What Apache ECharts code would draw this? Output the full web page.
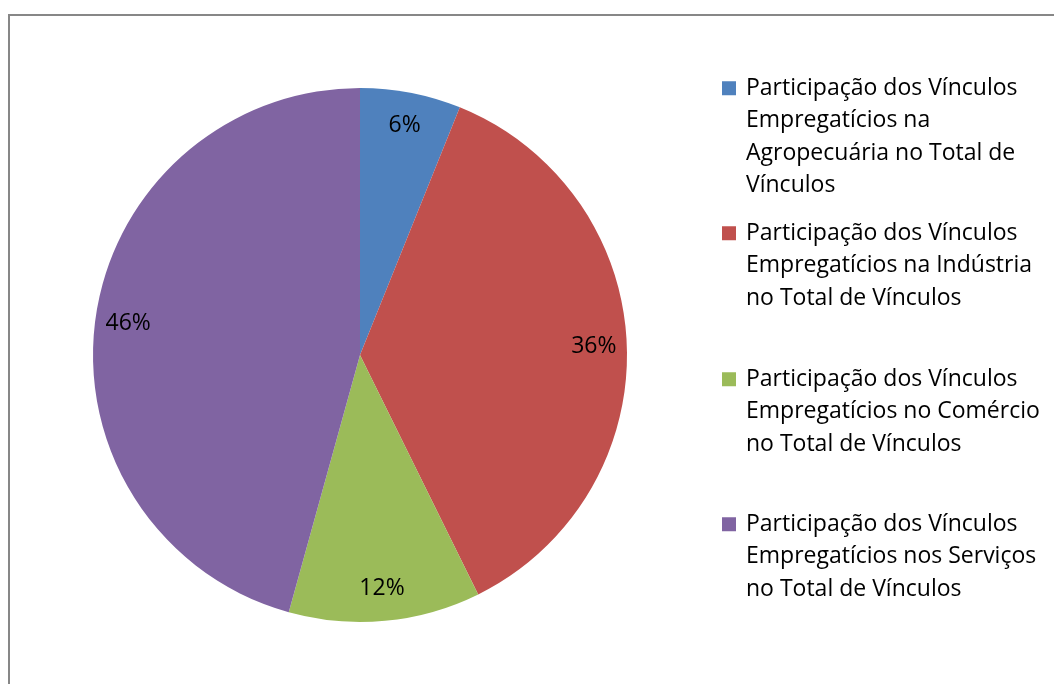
<!DOCTYPE html>
<html>
<head>
<meta charset="UTF-8">
<title>Vínculos Empregatícios</title>
<script src="https://cdn.jsdelivr.net/npm/echarts@6/dist/echarts.min.js"></script>
</head>
<body style="margin:0;background:#fff;">
<div id="chart" style="width:1054px;height:684px;"></div>
<script type="text/javascript">
    // dados (percentuais)
    var nomes = [
        'Participação dos Vínculos\nEmpregatícios na\nAgropecuária no Total de\nVínculos',
        'Participação dos Vínculos\nEmpregatícios na Indústria\nno Total de Vínculos',
        'Participação dos Vínculos\nEmpregatícios no Comércio\nno Total de Vínculos',
        'Participação dos Vínculos\nEmpregatícios nos Serviços\nno Total de Vínculos'
    ];
    var valores = [6.1, 36.6, 11.6, 45.7];
    var rotulos = ['6%', '36%', '12%', '46%'];
    var cores = ['#4F81BD', '#C0504D', '#9BBB59', '#8064A2'];

    var fonte = '"Open Sans", Lato, sans-serif';
    var chart = echarts.init(document.getElementById('chart'));

    var dados = [];
    for (var i = 0; i < nomes.length; i++) {
        dados.push({name: nomes[i], value: valores[i], itemStyle: {color: cores[i]}});
    }

    // rich text: quadrado colorido na primeira linha, recuo nas demais
    var rich = {g: {width: 10}, sp: {width: 24}};
    for (var i = 0; i < cores.length; i++) {
        rich['sq' + i] = {width: 14, height: 14, backgroundColor: cores[i]};
    }

    var topos = [67, 212, 358, 503];
    var legendas = [];
    for (var i = 0; i < nomes.length; i++) {
        legendas.push({
            data: [nomes[i]],
            left: 712,
            top: topos[i],
            itemWidth: 0,
            itemHeight: 0,
            selectedMode: false,
            formatter: (function (idx) {
                return function (name) {
                    var linhas = name.split('\n');
                    var s = '{sq' + idx + '|}{g|}' + linhas[0];
                    for (var k = 1; k < linhas.length; k++) {
                        s += '\n{sp|}' + linhas[k];
                    }
                    return s;
                };
            })(i),
            textStyle: {
                fontFamily: fonte,
                fontSize: 23,
                lineHeight: 32.5,
                color: '#000',
                rich: rich
            }
        });
    }

    var option = {
        animation: false,
        graphic: [{
            type: 'rect',
            shape: {x: 9, y: 15, width: 1100, height: 720},
            style: {fill: 'none', stroke: '#878787', lineWidth: 2}
        }],
        legend: legendas,
        series: [{
            type: 'pie',
            center: [360, 355],
            radius: [0, 267],
            startAngle: 90,
            clockwise: true,
            label: {show: false},
            labelLine: {show: false},
            data: dados
        }, {
            // série só para posicionar os rótulos perto da borda
            type: 'pie',
            silent: true,
            center: [360, 355],
            radius: [195, 267],
            startAngle: 90,
            clockwise: true,
            itemStyle: {color: 'rgba(0,0,0,0)'},
            label: {
                show: true,
                position: 'inside',
                fontFamily: fonte,
                fontSize: 23,
                color: '#000',
                formatter: function (p) { return rotulos[p.dataIndex]; }
            },
            labelLine: {show: false},
            data: nomes.map(function (n, i) { return {name: n, value: valores[i]}; })
        }]
    };
    chart.setOption(option);
</script>
</body>
</html>
